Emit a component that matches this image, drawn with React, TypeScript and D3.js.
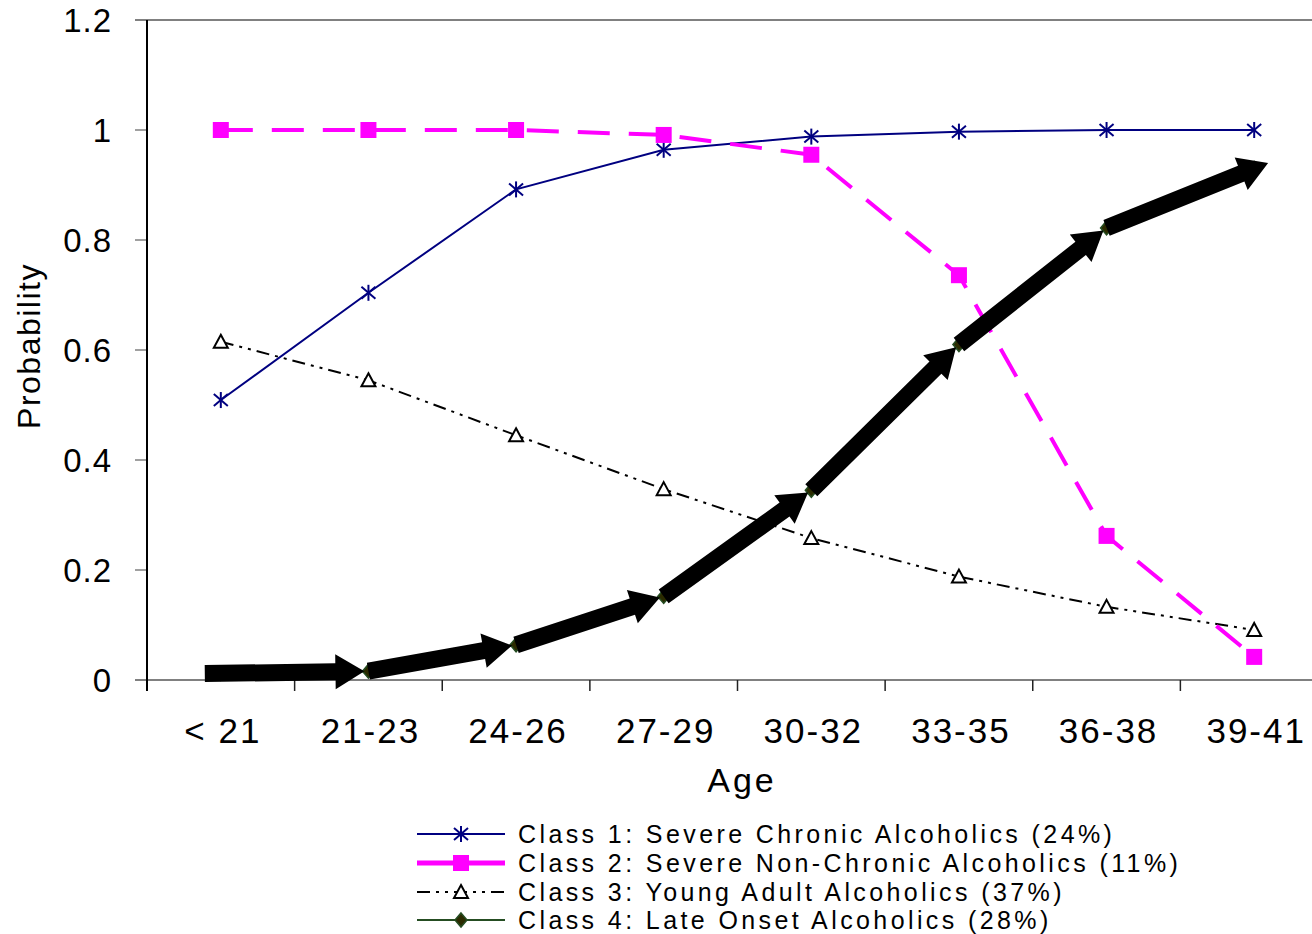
import React from "react";
import * as d3 from "d3";

const ageGroups = ["< 21", "21-23", "24-26", "27-29", "30-32", "33-35", "36-38", "39-41"];
const class1 = [0.509, 0.704, 0.892, 0.964, 0.988, 0.997, 1.0, 1.0];
const class2 = [1.0, 1.0, 1.0, 0.991, 0.955, 0.736, 0.262, 0.042];
const class3 = [0.615, 0.545, 0.445, 0.347, 0.258, 0.188, 0.133, 0.091];
const class4 = [0.012, 0.016, 0.064, 0.152, 0.345, 0.61, 0.822, 0.93];
const yTicks = [0, 0.2, 0.4, 0.6, 0.8, 1, 1.2];
const legendLabels = [
  "Class 1: Severe Chronic Alcoholics (24%)",
  "Class 2: Severe Non-Chronic Alcoholics (11%)",
  "Class 3: Young Adult Alcoholics (37%)",
  "Class 4: Late Onset Alcoholics (28%)",
];

const FONT = "'Liberation Sans', Arial, sans-serif";
const NAVY = "#000080";
const MAGENTA = "#FF00FF";
const GREEN = "#254d22";
const DASH3 = "13,6,3,6,3,6";

const Asterisk = ({ x, y }: { x: number; y: number }) => (
  <g transform={`translate(${x},${y})`} stroke={NAVY} strokeWidth={2}>
    <line x1={0} y1={-8} x2={0} y2={8} />
    <line x1={-7} y1={-6} x2={7} y2={6} />
    <line x1={-7} y1={6} x2={7} y2={-6} />
  </g>
);
const Square = ({ x, y }: { x: number; y: number }) => (
  <rect x={x - 8} y={y - 8} width={16} height={16} fill={MAGENTA} />
);
const Triangle = ({ x, y }: { x: number; y: number }) => (
  <path d={`M${x},${y - 7}L${x + 7},${y + 6}L${x - 7},${y + 6}Z`} fill="#fff" stroke="#000" strokeWidth={2} />
);
const Diamond = ({ x, y }: { x: number; y: number }) => (
  <path d={`M${x},${y - 7}L${x + 6},${y}L${x},${y + 7}L${x - 6},${y}Z`} fill="#2b2b00" stroke={GREEN} strokeWidth={1.5} />
);

function arrowPath(sx: number, sy: number, tx: number, ty: number, w: number, hw: number, hl: number) {
  const dx = tx - sx, dy = ty - sy;
  const L = Math.hypot(dx, dy);
  const ux = dx / L, uy = dy / L;
  const nx = -uy, ny = ux;
  const bx = tx - ux * hl, by = ty - uy * hl;
  const p = (x: number, y: number) => `${x.toFixed(1)},${y.toFixed(1)}`;
  return (
    "M" + p(sx + nx * w / 2, sy + ny * w / 2) +
    "L" + p(bx + nx * w / 2, by + ny * w / 2) +
    "L" + p(bx + nx * hw / 2, by + ny * hw / 2) +
    "L" + p(tx, ty) +
    "L" + p(bx - nx * hw / 2, by - ny * hw / 2) +
    "L" + p(bx - nx * w / 2, by - ny * w / 2) +
    "L" + p(sx - nx * w / 2, sy - ny * w / 2) + "Z"
  );
}

export default function App() {
  const W = 1312, H = 934;
  const x = d3.scaleBand<string>().domain(ageGroups).range([147, 1328]).padding(0);
  const y = d3.scaleLinear().domain([0, 1.2]).range([680, 20]);
  const cx = (i: number) => (x(ageGroups[i]) as number) + x.bandwidth() / 2;

  const line = d3.line<number>().x((_, i) => cx(i)).y((d) => y(d));

  const arrows: string[] = [];
  for (let i = 0; i < class4.length - 1; i++) {
    let sx = cx(i), sy = y(class4[i]);
    let tx = cx(i + 1), ty = y(class4[i + 1]);
    const dx = tx - sx, dy = ty - sy;
    const L = Math.hypot(dx, dy);
    if (i === 0) {
      sx -= (dx / L) * 16;
      sy -= (dy / L) * 16;
    }
    if (i === class4.length - 2) {
      tx += (dx / L) * 15;
      ty += (dy / L) * 15;
    } else {
      tx -= (dx / L) * 4;
      ty -= (dy / L) * 4;
    }
    arrows.push(arrowPath(sx, sy, tx, ty, 17, 35, 29));
  }

  const legendY = [834, 863, 892, 920];

  return (
    <svg width={W} height={H} style={{ position: "absolute", left: 0, top: 0, background: "#fff" }} fontFamily={FONT}>
      <rect width={W} height={H} fill="#fff" />
      {/* plot frame */}
      <line x1={135} x2={W} y1={20} y2={20} stroke="#808080" strokeWidth={2} />
      <line x1={135} x2={W} y1={680} y2={680} stroke="#808080" strokeWidth={2} />
      {yTicks.map((t) => (
        <line key={t} x1={135} x2={147} y1={y(t)} y2={y(t)} stroke="#808080" strokeWidth={1.5} />
      ))}
      {ageGroups.map((g) => (
        <line key={g} x1={x(g) as number} x2={x(g) as number} y1={680} y2={691} stroke="#222" strokeWidth={1.5} />
      ))}
      <line x1={147} x2={147} y1={20} y2={691} stroke="#000" strokeWidth={2} />

      {/* y tick labels */}
      {yTicks.map((t) => (
        <text key={t} x={112} y={y(t)} dy="0.36em" textAnchor="end" fontSize={33} letterSpacing={1}>
          {d3.format("~g")(t)}
        </text>
      ))}
      {/* x tick labels */}
      {ageGroups.map((g, i) => (
        <text key={g} x={cx(i) + 2} y={730} dy="0.36em" textAnchor="middle" fontSize={35} letterSpacing={2}>
          {g}
        </text>
      ))}
      <text x={742} y={792} textAnchor="middle" fontSize={34} letterSpacing={3}>Age</text>
      <text transform="translate(40,346) rotate(-90)" textAnchor="middle" fontSize={32} letterSpacing={1.5}>Probability</text>

      {/* series */}
      <path d={line(class4) || ""} fill="none" stroke={GREEN} strokeWidth={2} />
      {class4.map((v, i) => <Diamond key={i} x={cx(i)} y={y(v)} />)}

      <path d={line(class1) || ""} fill="none" stroke={NAVY} strokeWidth={2} />
      {class1.map((v, i) => <Asterisk key={i} x={cx(i)} y={y(v)} />)}

      <path d={line(class3) || ""} fill="none" stroke="#000" strokeWidth={2} strokeDasharray={DASH3} />
      {class3.map((v, i) => <Triangle key={i} x={cx(i)} y={y(v)} />)}

      <path d={line(class2) || ""} fill="none" stroke={MAGENTA} strokeWidth={4} strokeDasharray="32,19" />
      {class2.map((v, i) => <Square key={i} x={cx(i)} y={y(v)} />)}

      {/* thick annotation arrows along class 4 */}
      {arrows.map((d, i) => <path key={i} d={d} fill="#000" />)}

      {/* legend */}
      {legendLabels.map((lab, i) => {
        const ly = legendY[i];
        return (
          <g key={lab}>
            {i === 0 && (
              <>
                <line x1={417} x2={505} y1={ly} y2={ly} stroke={NAVY} strokeWidth={2} />
                <Asterisk x={461} y={ly} />
              </>
            )}
            {i === 1 && (
              <>
                <line x1={417} x2={505} y1={ly} y2={ly} stroke={MAGENTA} strokeWidth={5} />
                <Square x={461} y={ly} />
              </>
            )}
            {i === 2 && (
              <>
                <line x1={417} x2={505} y1={ly} y2={ly} stroke="#000" strokeWidth={2} strokeDasharray={DASH3} />
                <Triangle x={461} y={ly} />
              </>
            )}
            {i === 3 && (
              <>
                <line x1={417} x2={505} y1={ly} y2={ly} stroke={GREEN} strokeWidth={2} />
                <Diamond x={461} y={ly} />
              </>
            )}
            <text x={518} y={ly} dy="0.36em" fontSize={25} letterSpacing={3.4}>{lab}</text>
          </g>
        );
      })}
    </svg>
  );
}
